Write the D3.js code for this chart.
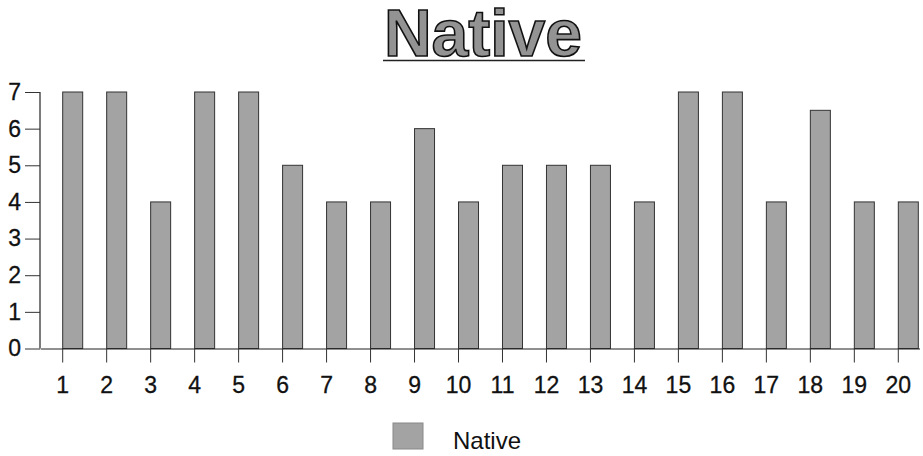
<!DOCTYPE html>
<html>
<head>
<meta charset="utf-8">
<script src="https://cdn.jsdelivr.net/npm/d3@7"></script>
<style>
  body { margin: 0; background: #fff; }
  svg { display: block; font-family: "Liberation Sans", Arial, sans-serif; }
</style>
</head>
<body>
<svg id="chart" width="923" height="456"></svg>
<script>
const categories = d3.range(1, 21).map(String);
const nativeValues = [7, 7, 4, 7, 7, 5, 4, 4, 6, 4, 5, 5, 5, 4, 7, 7, 4, 6.5, 4, 4];
const yTicks = [0, 1, 2, 3, 4, 5, 6, 7];
const seriesName = "Native";

const svg = d3.select("#chart");

const x = d3.scaleBand()
  .domain(categories)
  .range([40.7, 920.3]);

const y = d3.scaleLinear()
  .domain([0, 7])
  .range([348.5, 92]);

const barFill = "#a3a3a3";

// Title
svg.append("text")
  .attr("x", 483)
  .attr("y", 56)
  .attr("text-anchor", "middle")
  .style("font-size", "66px")
  .style("font-weight", "bold")
  .attr("fill", "#939393")
  .attr("stroke", "#111")
  .attr("stroke-width", 1.6)
  .text(seriesName);

svg.append("line")
  .attr("x1", 383).attr("x2", 585)
  .attr("y1", 60.5).attr("y2", 60.5)
  .attr("stroke", "#222")
  .attr("stroke-width", 1.5);

// Bars
svg.append("g")
  .selectAll("rect")
  .data(nativeValues)
  .join("rect")
  .attr("x", (d, i) => x(categories[i]) + x.bandwidth() / 2)
  .attr("y", d => y(d))
  .attr("width", 20)
  .attr("height", d => y(0) - y(d))
  .attr("fill", barFill)
  .attr("stroke", "#333")
  .attr("stroke-width", 1);

// Y axis
const yAxis = svg.append("g")
  .attr("transform", "translate(40,0)")
  .call(d3.axisLeft(y).tickValues(yTicks).tickSize(15).tickPadding(4).tickFormat(d3.format("d")));

// X axis
const xAxis = svg.append("g")
  .attr("transform", `translate(0,${y(0)})`)
  .call(d3.axisBottom(x).tickSize(14).tickSizeOuter(0).tickPadding(14));

[yAxis, xAxis].forEach(a => {
  a.select(".domain").attr("stroke", "#222").attr("stroke-width", 1.2);
  a.selectAll(".tick line").attr("stroke", "#333");
  a.selectAll(".tick text")
    .attr("fill", "#111")
    .attr("stroke", "#111")
    .attr("stroke-width", 0.3)
    .style("font-size", "23px")
    .style("font-family", "'Liberation Sans', Arial, sans-serif");
});
xAxis.select(".domain").attr("d", "M40.7,0.5H920");
yAxis.select(".domain").attr("d", `M0,${y(7)}V${y(0)}`);

// Legend
const legend = svg.append("g").attr("transform", "translate(393,423)");
legend.append("rect")
  .attr("width", 30)
  .attr("height", 26)
  .attr("fill", barFill)
  .attr("stroke", "#888")
  .attr("stroke-width", 1);
legend.append("text")
  .attr("x", 60)
  .attr("y", 26)
  .style("font-size", "24px")
  .attr("fill", "#111")
  .text(seriesName);
</script>
</body>
</html>
